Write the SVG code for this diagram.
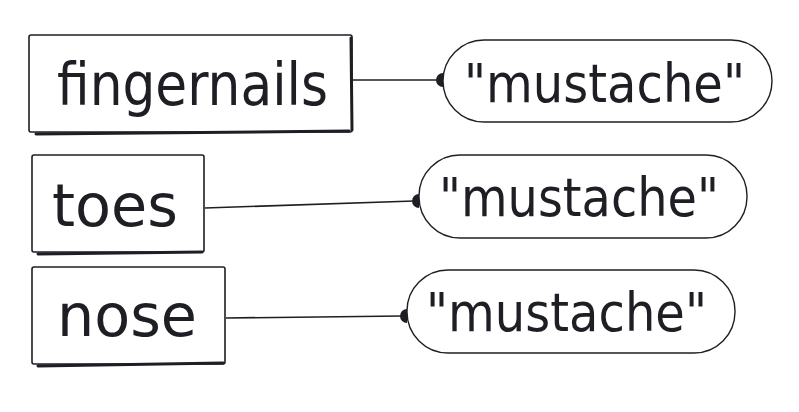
<svg xmlns="http://www.w3.org/2000/svg" width="799" height="412" viewBox="0 0 799 412">
<style>
.box{fill:#fff;stroke:#1e1f24;stroke-width:1.6}
.shadow{fill:none;stroke:#1e1f24;stroke-width:3;stroke-linecap:round}
.pill{fill:#fff;stroke:#1e1f24;stroke-width:1.4}
.lbl{font-family:"DejaVu Sans",sans-serif;font-size:58px;fill:#1e1f24}
.val{font-family:"DejaVu Sans",sans-serif;font-size:54px;fill:#1e1f24}
.conn{fill:none;stroke:#1e1f24;stroke-width:1.6}
.dot{fill:#1e1f24}
</style>
<rect width="799" height="412" fill="#fff"/>
<g id="connectors">
<path class="conn" d="M353 80 L438 80"/>
<path class="dot" d="M443 73 A7 7 0 0 0 443 87 Z"/>
<path class="conn" d="M205 208 L414 201"/>
<path class="dot" d="M419 194 A7 7 0 0 0 419 208 Z"/>
<path class="conn" d="M226 318 L402 316"/>
<path class="dot" d="M407 309 A7 7 0 0 0 407 323 Z"/>
</g>
<g id="node-fingernails">
<rect class="box" x="29" y="35" width="323" height="97" rx="2"/>
<path class="shadow" d="M36 134 L349 131 M351 38 L352 130"/>
<text class="lbl" x="57" y="105" textLength="271" lengthAdjust="spacingAndGlyphs">fingernails</text>
</g>
<g id="node-toes">
<rect class="box" x="32" y="155" width="172" height="97" rx="2"/>
<path class="shadow" d="M38 254 L202 252"/>
<text class="lbl" x="52" y="226" textLength="126" lengthAdjust="spacingAndGlyphs">toes</text>
</g>
<g id="node-nose">
<rect class="box" x="32" y="267" width="193" height="97" rx="2"/>
<path class="shadow" d="M38 366 L223 363"/>
<text class="lbl" x="57" y="336" textLength="140" lengthAdjust="spacingAndGlyphs">nose</text>
</g>
<g id="node-mustache-1">
<rect class="pill" x="443" y="40" width="329" height="82" rx="41"/>
<text class="val" x="464" y="102" textLength="281" lengthAdjust="spacingAndGlyphs">"mustache"</text>
</g>
<g id="node-mustache-2">
<rect class="pill" x="419" y="155" width="328" height="83" rx="41"/>
<text class="val" x="439" y="216" textLength="280" lengthAdjust="spacingAndGlyphs">"mustache"</text>
</g>
<g id="node-mustache-3">
<rect class="pill" x="407" y="270" width="328" height="83" rx="41"/>
<text class="val" x="426" y="331" textLength="281" lengthAdjust="spacingAndGlyphs">"mustache"</text>
</g>
</svg>
